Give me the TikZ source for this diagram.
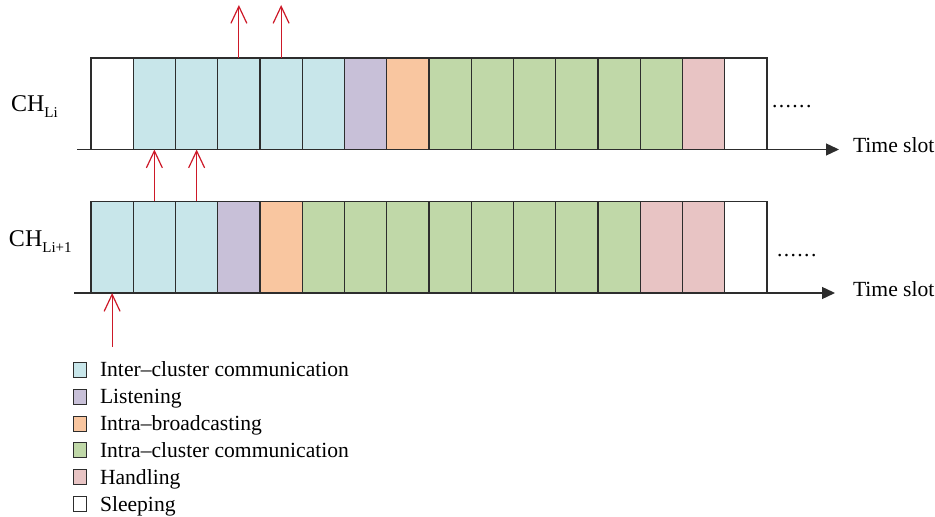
\documentclass[tikz,border=0pt]{standalone}
\usepackage{fontspec}
\setmainfont{Liberation Serif}
\usetikzlibrary{arrows.meta}

% slot colours
\definecolor{interc}{RGB}{200,230,234}
\definecolor{listen}{RGB}{200,192,216}
\definecolor{bcast}{RGB}{249,198,160}
\definecolor{intrac}{RGB}{192,216,168}
\definecolor{handle}{RGB}{232,196,196}
\definecolor{sleep}{RGB}{255,255,255}
\definecolor{edgegray}{RGB}{45,45,45}
\definecolor{sig}{RGB}{205,25,40}

% six spaced dots marking continuation
\newcommand{\moredots}{.\kern0.7pt.\kern0.7pt.\kern0.7pt.\kern0.7pt.\kern0.7pt.}

\begin{document}
\begin{tikzpicture}[x=0.5pt,y=-0.5pt,
  slotbox/.style={draw=edgegray, line width=0.7pt, minimum width=21.125pt,
    minimum height=45.75pt, inner sep=0pt, outer sep=0pt, anchor=south west},
  axisline/.style={draw=edgegray, line width=0.65pt, -{Triangle[length=6.5pt,width=6pt]}},
  signal/.style={draw=sig, line width=0.6pt, -{Straight Barb[length=8.5pt,width=8pt]}},
  lbl/.style={font=\fontsize{10.8}{13}\selectfont, inner sep=0pt, outer sep=0pt},
  chlbl/.style={font=\fontsize{12}{14}\selectfont, inner sep=0pt, outer sep=0pt},
  legbox/.style={draw=edgegray, line width=0.5pt, minimum width=6.5pt,
    minimum height=7.5pt, inner sep=0pt},
]
\useasboundingbox (0,0) rectangle (935,517);

% upper schedule (CH_Li)
\foreach \c [count=\i] in {sleep,interc,interc,interc,interc,interc,listen,bcast,
    intrac,intrac,intrac,intrac,intrac,intrac,handle,sleep}
  \node[slotbox, fill=\c] (t\i) at ({91+42.25*(\i-1)},149.5) {};

% lower schedule (CH_Li+1)
\foreach \c [count=\i] in {interc,interc,interc,listen,bcast,intrac,intrac,intrac,
    intrac,intrac,intrac,intrac,intrac,handle,handle,sleep}
  \node[slotbox, fill=\c] (b\i) at ({91+42.25*(\i-1)},293) {};

% row labels
\node[chlbl, anchor=base west] (chtop) at (11,112)
  {CH\raisebox{-2.6pt}{\fontsize{7.5}{8}\selectfont Li}};
\node[chlbl, anchor=base west] (chbot) at (9,247)
  {CH\raisebox{-2.6pt}{\fontsize{7.5}{8}\selectfont Li+1}};

% time axes
\node[lbl, anchor=base west] (tstop) at (853,153) {Time slot};
\node[lbl, anchor=base west] (tsbot) at (853,297) {Time slot};
\coordinate (ta0) at (77,149.5);
\coordinate (ta1) at (839,149.5);
\coordinate (ba0) at (74,293);
\coordinate (ba1) at (835,293);
\draw[axisline] (ta0) -- (ta1);
\draw[axisline] (ba0) -- (ba1);

% continuation dots
\node[lbl, anchor=base west] (dtop) at (772,108) {\moredots};
\node[lbl, anchor=base west] (dbot) at (777,257) {\moredots};

% transmissions
\path (t4.north) ++(0,-53) coordinate (u4);
\path (t5.north) ++(0,-53) coordinate (u5);
\path (b1.south) ++(0,54) coordinate (s1);
\draw[signal] (t4.north) -- (u4);
\draw[signal] (t5.north) -- (u5);
\draw[signal] (b2.north) -- (t2.south);
\draw[signal] (b3.north) -- (t3.south);
\draw[signal] (s1) -- (b1.south);

% legend
\foreach \c/\txt [count=\k from 0] in {interc/Inter–cluster communication,
    listen/Listening, bcast/Intra–broadcasting,
    intrac/Intra–cluster communication, handle/Handling, sleep/Sleeping} {
  \node[legbox, fill=\c] (lb\k) at (80,{370+26.8*\k}) {};
  \node[lbl, anchor=base west] (lt\k) at (100,{377+26.8*\k}) {\txt};
}
\end{tikzpicture}
\end{document}
